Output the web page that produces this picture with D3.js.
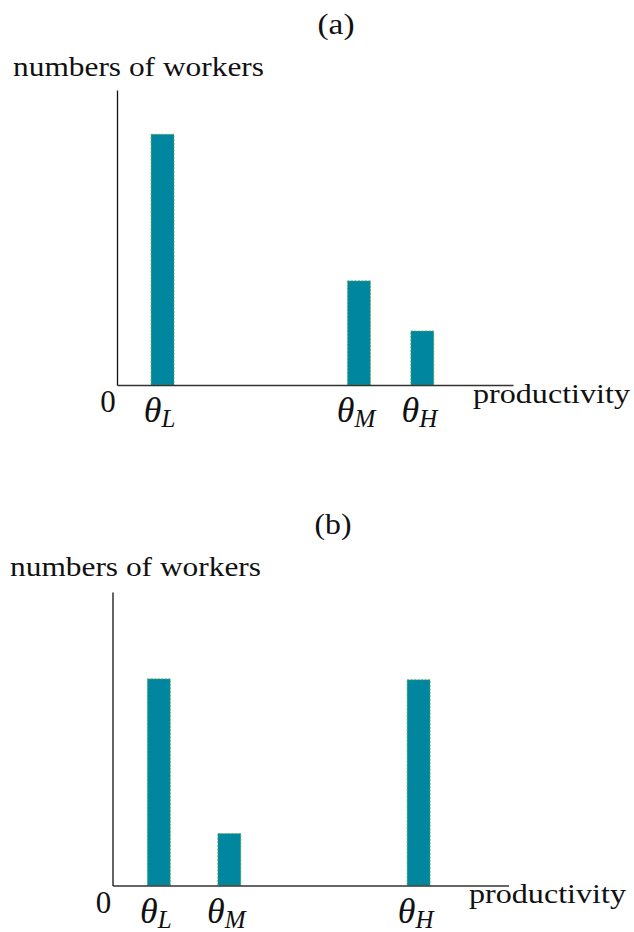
<!DOCTYPE html>
<html>
<head>
<meta charset="utf-8">
<script src="https://cdn.jsdelivr.net/npm/d3@7"></script>
<style>
  html, body { margin: 0; padding: 0; background: #fff; }
  svg { display: block; }
  text { font-family: "Liberation Serif", "Times New Roman", serif; fill: #111; }
</style>
</head>
<body>
<svg id="chart" width="634" height="932"></svg>
<script>
// Worker counts by productivity type, two scenarios
const panelTitles = ["(a)", "(b)"];
const typeNames = ["L", "M", "H"];
// position of each productivity type along the horizontal axis (0–10)
const productivityA = [1.15, 6.11, 7.71];
const productivityB = [1.17, 2.95, 7.73];
// number of workers at each type (0–100 of the vertical axis)
const workersA = [85, 35.3, 18.3];
const workersB = [70.4, 17.7, 70.1];

const yLabel = "numbers of workers";
const xLabel = "productivity";
const originLabel = "0";

const panels = [
  { title: panelTitles[0], pos: productivityA, vals: workersA, titleX: 336,
    left: 117, top: 90, bottom: 385, titleY: 34, yLabX: 13, yLabY: 76, xLabX: 473, xLabY: 403 },
  { title: panelTitles[1], pos: productivityB, vals: workersB, titleX: 333,
    left: 112.5, top: 592, bottom: 885.5, titleY: 534, yLabX: 10, yLabY: 576, xLabX: 469, xLabY: 903 }
];

const svg = d3.select("#chart");
const axisLen = 396;
const barW = 0.58; // bar width in productivity units

panels.forEach(p => {
  const g = svg.append("g");
  const x = d3.scaleLinear().domain([0, 10]).range([p.left, p.left + axisLen]);
  const y = d3.scaleLinear().domain([0, 100]).range([p.bottom, p.top]);

  // bars
  g.selectAll("rect.bar")
    .data(p.vals)
    .join("rect")
    .attr("class", "bar")
    .attr("x", (d, i) => x(p.pos[i] - barW / 2))
    .attr("width", (d, i) => x(p.pos[i] + barW / 2) - x(p.pos[i] - barW / 2))
    .attr("y", d => y(d))
    .attr("height", d => y(0) - y(d))
    .attr("fill", "#00879f")
    .attr("stroke", "#5fae4a")
    .attr("stroke-width", 0.8)
    .attr("stroke-dasharray", "2,1.5");

  // axes (plain lines, no ticks)
  g.append("g")
    .attr("transform", `translate(0,${p.bottom})`)
    .call(d3.axisBottom(x).tickValues([]).tickSizeOuter(0))
    .select(".domain").attr("stroke", "#333").attr("stroke-width", 1.4);
  g.append("g")
    .attr("transform", `translate(${p.left},0)`)
    .call(d3.axisLeft(y).tickValues([]).tickSizeOuter(0))
    .select(".domain").attr("stroke", "#111").attr("stroke-width", 1.3);

  // panel title
  g.append("text")
    .attr("x", p.titleX)
    .attr("y", p.titleY)
    .attr("text-anchor", "middle")
    .attr("font-size", 30)
    .attr("textLength", 37).attr("lengthAdjust", "spacingAndGlyphs")
    .text(p.title);

  // axis labels
  g.append("text")
    .attr("x", p.yLabX).attr("y", p.yLabY)
    .attr("font-size", 28)
    .attr("textLength", 251).attr("lengthAdjust", "spacingAndGlyphs")
    .text(yLabel);
  g.append("text")
    .attr("x", p.xLabX).attr("y", p.xLabY)
    .attr("font-size", 28)
    .attr("textLength", 157).attr("lengthAdjust", "spacingAndGlyphs")
    .text(xLabel);
  g.append("text")
    .attr("x", p.left - 9).attr("y", p.bottom + 27)
    .attr("text-anchor", "middle")
    .attr("font-size", 31)
    .text(originLabel);

  // theta labels under each bar
  p.pos.forEach((v, i) => {
    const t = g.append("text")
      .attr("x", x(v) - 3)
      .attr("y", p.bottom + 37)
      .attr("text-anchor", "middle")
      .attr("font-style", "italic");
    t.append("tspan").attr("font-size", 36).text("θ");
    t.append("tspan").attr("font-size", 25).attr("dy", 5).text(typeNames[i]);
  });
});
</script>
</body>
</html>
